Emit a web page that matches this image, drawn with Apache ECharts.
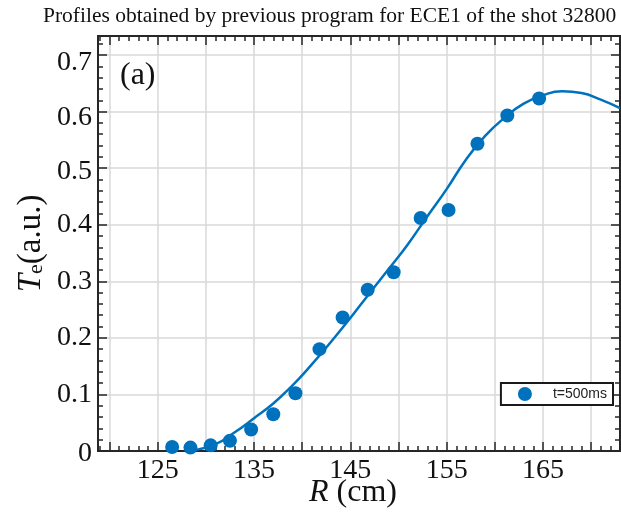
<!DOCTYPE html>
<html>
<head>
<meta charset="utf-8">
<script src="https://cdn.jsdelivr.net/npm/echarts@6/dist/echarts.min.js"></script>
<style>html,body{margin:0;padding:0;background:#fff;}#c{width:621px;height:513px;}</style>
</head>
<body>
<div id="c"></div>
<script>
// Measured points (R in cm, Te in a.u.)
const pointR = [126.5, 128.4, 130.5, 132.5, 134.7, 137.0, 139.3, 141.8, 144.2, 146.8, 149.5, 152.3, 155.2, 158.2, 161.3, 164.6];
const pointTe = [0.007, 0.006, 0.010, 0.018, 0.038, 0.065, 0.102, 0.180, 0.236, 0.285, 0.316, 0.412, 0.426, 0.543, 0.593, 0.623];
// Fitted profile curve
const curveR = [129, 131, 133, 135, 137, 139, 141, 143, 145, 147, 149, 151, 153, 155, 157, 159, 161, 163, 165, 167, 169, 171, 173];
const curveTe = [0.002, 0.012, 0.033, 0.058, 0.084, 0.116, 0.153, 0.193, 0.235, 0.279, 0.322, 0.366, 0.415, 0.463, 0.515, 0.557, 0.589, 0.614, 0.629, 0.636, 0.633, 0.621, 0.606];
const xTickLabels = [125, 135, 145, 155, 165];
const yTickLabels = ['0', '0.1', '0.2', '0.3', '0.4', '0.5', '0.6', '0.7'];
const seriesName = 't=500ms';
const titleText = 'Profiles obtained by previous program for ECE1 of the shot 32800';
const panelLabel = '(a)';

const blue = '#0072BD';
const axisCol = '#262626';
const txt = '#111';
const serif = 'Liberation Serif';
const xMin = 118.8, xMax = 173;

// tick positions on the R axis (major every 5 cm, minor every 1 cm)
const xMajor = [], xMinor = [];
for (let v = 120; v <= 170; v += 1) { (v % 5 === 0 ? xMajor : xMinor).push(v); }
xMinor.unshift(119); xMinor.push(171, 172);

const chart = echarts.init(document.getElementById('c'), null, {renderer: 'canvas'});

// small vertical nudges of the left tick labels, as in the original figure
const yLabelNudge = {'0.7': 16, '0.6': 12, '0.5': 6, '0': 6};
const yRich = {};
Object.keys(yLabelNudge).forEach((k, i) => {
  yRich['n' + i] = {fontFamily: serif, fontSize: 28, color: txt, padding: [yLabelNudge[k], 0, 0, 0]};
});
function yFmt(v) {
  const k = Math.round(v * 10);
  if (Math.abs(v * 10 - k) > 1e-6 || k < 0 || k >= yTickLabels.length) return '';
  const s = yTickLabels[k];
  const idx = Object.keys(yLabelNudge).indexOf(s);
  return idx >= 0 ? '{n' + idx + '|' + s + '}' : s;
}

function xAxisDef(pos, ticks, len, withLabels, withGrid) {
  return {
    type: 'value', min: xMin, max: xMax, position: pos,
    axisLine: {show: true, onZero: false, lineStyle: {color: axisCol, width: 2}},
    axisTick: {show: true, inside: true, length: len, customValues: ticks, lineStyle: {color: axisCol, width: 1.5}},
    minorTick: {show: false},
    axisLabel: withLabels ? {show: true, customValues: xTickLabels, margin: 6, fontFamily: serif, fontSize: 28, color: txt} : {show: false},
    splitLine: {show: withGrid, lineStyle: {color: '#d9d9d9', width: 1.5}}
  };
}
const yCommon = {
  type: 'value', min: 0, max: 0.7336, interval: 0.1,
  axisLine: {show: true, onZero: false, lineStyle: {color: axisCol, width: 2}},
  axisTick: {show: true, inside: true, length: 9, lineStyle: {color: axisCol, width: 1.5}},
  minorTick: {show: true, splitNumber: 5, length: 5, lineStyle: {color: axisCol, width: 1.5}},
};

const xAxes = [
  xAxisDef('bottom', xMajor, 9, true, true),
  xAxisDef('bottom', xMinor, 5, false, false),
  xAxisDef('top', xMajor, 9, false, false),
  xAxisDef('top', xMinor, 5, false, false)
];
Object.assign(xAxes[0], {
  name: '{i|R} {n|(cm)}', nameLocation: 'middle', nameGap: 26, nameMoveOverlap: false,
  nameTextStyle: {fontFamily: serif, fontSize: 32, color: txt, padding: [0, 12, 0, 0],
    rich: {i: {fontFamily: serif, fontStyle: 'italic', fontSize: 32, color: txt},
           n: {fontFamily: serif, fontSize: 32, color: txt}}}
});

chart.setOption({
  animation: false,
  backgroundColor: '#fff',
  title: {
    text: titleText, left: 38, top: 0,
    textStyle: {fontFamily: serif, fontSize: 21.5, fontWeight: 'normal', color: txt}
  },
  grid: {left: 98, right: 1, top: 36, bottom: 62, containLabel: false, outerBoundsMode: 'none'},
  legend: {
    data: [seriesName], right: 8, top: 383,
    icon: 'circle', itemWidth: 30, itemHeight: 14,
    backgroundColor: '#fff', borderColor: '#1a1a1a', borderWidth: 2, borderRadius: 0,
    padding: [4, 6, 4, 17],
    textStyle: {fontFamily: 'Liberation Sans', fontSize: 14, color: '#222', padding: [0, 0, 0, 8]}
  },
  graphic: [{
    type: 'text', left: 120, top: 60, z: 10,
    style: {text: panelLabel, font: '32px "Liberation Serif"', fill: txt}
  }],
  xAxis: xAxes,
  yAxis: [
    Object.assign({}, yCommon, {
      position: 'left',
      name: '{i|T}{s|e}{n|(a.u.)}', nameLocation: 'middle', nameGap: 50, nameRotate: 90, nameMoveOverlap: false,
      nameTextStyle: {fontFamily: serif, fontSize: 33, color: txt,
        rich: {i: {fontFamily: serif, fontStyle: 'italic', fontSize: 33, color: txt},
               s: {fontFamily: serif, fontSize: 22, color: txt, padding: [10, 0, 0, 0]},
               n: {fontFamily: serif, fontSize: 33, color: txt}}},
      axisLabel: {show: true, formatter: yFmt, margin: 6, fontFamily: serif, fontSize: 28, color: txt, rich: yRich},
      splitLine: {show: true, lineStyle: {color: '#d9d9d9', width: 1.5}}
    }),
    Object.assign({}, yCommon, {
      position: 'right', axisLabel: {show: false}, splitLine: {show: false}
    })
  ],
  series: [
    {
      name: 'fit', type: 'line', smooth: true, showSymbol: false, clip: true,
      xAxisIndex: 0, yAxisIndex: 0,
      data: curveR.map((r, i) => [r, curveTe[i]]),
      lineStyle: {color: blue, width: 2.5}, itemStyle: {color: blue}, z: 3
    },
    {
      name: seriesName, type: 'scatter', symbol: 'circle', symbolSize: 14,
      xAxisIndex: 0, yAxisIndex: 0,
      data: pointR.map((r, i) => [r, pointTe[i]]),
      itemStyle: {color: blue, opacity: 1}, z: 4
    }
  ]
});
</script>
</body>
</html>
